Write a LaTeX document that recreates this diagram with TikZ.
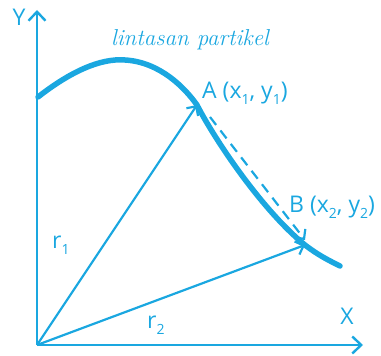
\documentclass[tikz,border=0pt]{standalone}
\usepackage{fontspec}
\usetikzlibrary{arrows.meta}
\newfontfamily\lblfont{Open Sans}
\definecolor{trajCyan}{HTML}{1AA7E0}
\newcommand{\lowidx}[1]{\raisebox{-0.5ex}{\fontsize{14}{14}\selectfont #1}}

\begin{document}
\begin{tikzpicture}[x=1pt,y=-1pt,
    axis/.style={draw=trajCyan,line width=2.4pt,
                 -{Straight Barb[length=9pt,width=17pt]}},
    vec/.style={draw=trajCyan,line width=2.2pt,
                -{Straight Barb[length=7pt,width=14pt]}},
    disp/.style={vec,dashed,dash pattern=on 10pt off 7pt},
    path/.style={draw=trajCyan,line width=5.5pt,line cap=round},
    lbl/.style={text=trajCyan,font=\lblfont\fontsize{23}{23}\selectfont,inner sep=0pt}]
  \useasboundingbox (0,0) rectangle (381,356);
  % points
  \coordinate (O) at (37,345);
  \coordinate (ytip) at (37,10);
  \coordinate (xtip) at (363,345);
  \coordinate (A) at (197,105);
  \coordinate (B) at (305,245);
  % trajectory
  \draw[path] (38,97) .. controls (70,72) and (100,58) .. (125,60)
    .. controls (160,62) and (185,88) .. (A)
    .. controls (215,140) and (262,210) .. (B)
    .. controls (318,255) and (328,260) .. (340,266);
  % axes
  \draw[axis] (O) -- (ytip);
  \draw[axis] (O) -- (xtip);
  % position vectors
  \draw[vec] (O) -- (A);
  \draw[vec] (O) -- (B);
  \draw[disp] (210,117) -- (305,240);
  % labels
  \node[lbl,anchor=west] (lA) at (202,93) {A (x\lowidx{1}, y\lowidx{1})};
  \node[lbl,anchor=west] (lB) at (289,207) {B (x\lowidx{2}, y\lowidx{2})};
  \node[lbl] (ly) at (19,17) {Y};
  \node[lbl] (lx) at (347,316) {X};
  \node[lbl,anchor=west] (lr1) at (52,245) {r\lowidx{1}};
  \node[lbl,anchor=west] (lr2) at (147,325) {r\lowidx{2}};
  \node[text=trajCyan,font=\itshape\fontsize{23}{23}\selectfont] (ltitle) at (190,40) {lintasan partikel};
\end{tikzpicture}
\end{document}
